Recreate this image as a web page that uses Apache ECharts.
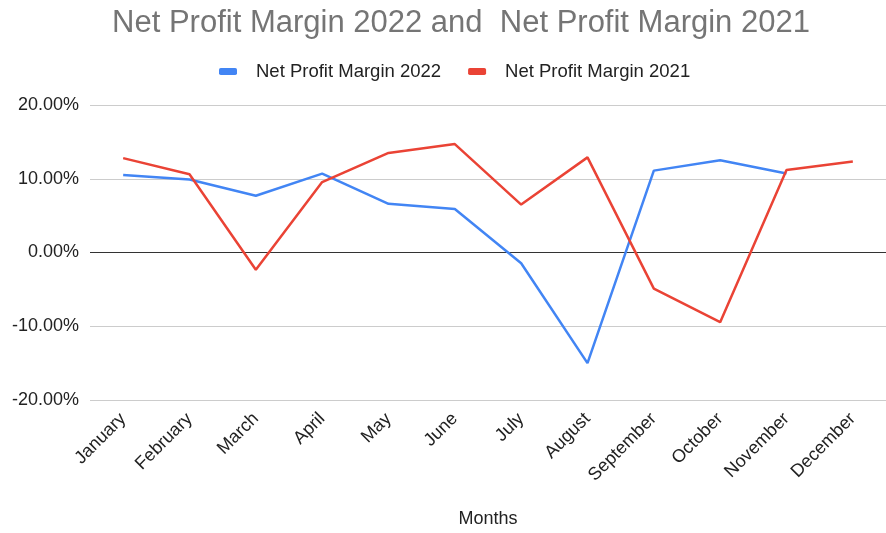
<!DOCTYPE html>
<html>
<head>
<meta charset="utf-8">
<script src="https://cdn.jsdelivr.net/npm/echarts@6/dist/echarts.min.js"></script>
<style>html,body{margin:0;padding:0;background:#fff}#c{width:886px;height:533px}</style>
</head>
<body>
<div id="c"></div>
<script>
var months = ["January","February","March","April","May","June","July","August","September","October","November","December"];
var margin2022 = [10.5, 9.9, 7.7, 10.7, 6.6, 5.9, -1.45, -15.0, 11.1, 12.5, 10.7, null];
var margin2021 = [12.8, 10.6, -2.35, 9.55, 13.5, 14.7, 6.5, 12.9, -4.9, -9.45, 11.2, 12.35];
var yTicks = [-20, -10, 0, 10, 20];

var font = "Liberation Sans, Arial, Helvetica, sans-serif";
var chart = echarts.init(document.getElementById('c'));
chart.setOption({
  animation: false,
  title: {
    text: "Net Profit Margin 2022 and  Net Profit Margin 2021",
    left: 456, top: 3, textAlign: 'center',
    textStyle: {fontFamily: font, fontSize: 31, fontWeight: 'normal', color: '#757575'}
  },
  legend: {
    top: 57, left: 214,
    itemWidth: 18, itemHeight: 7, itemGap: 27,
    icon: 'roundRect',
    textStyle: {fontFamily: font, fontSize: 18.5, color: '#222', padding: [0, 0, 0, 14]},
    data: ["Net Profit Margin 2022", "Net Profit Margin 2021"]
  },
  grid: {left: 90, top: 105, width: 806, height: 295.5, containLabel: false},
  xAxis: {
    type: 'category', data: months, boundaryGap: true,
    name: 'Months', nameLocation: 'middle', nameGap: 110,
    nameTextStyle: {fontFamily: font, fontSize: 18, color: '#222'},
    axisLine: {show: false}, axisTick: {show: false},
    axisLabel: {rotate: 45, interval: 0, margin: 16, fontFamily: font, fontSize: 18, color: '#222'}
  },
  yAxis: {
    type: 'value', min: yTicks[0], max: yTicks[yTicks.length - 1], interval: 10,
    axisLine: {show: false}, axisTick: {show: false},
    axisLabel: {margin: 11, fontFamily: font, fontSize: 18, color: '#222',
      formatter: function (v) { return v.toFixed(2) + '%'; }},
    splitLine: {lineStyle: {color: ['#cccccc', '#cccccc', '#333333', '#cccccc', '#cccccc'], width: 1}}
  },
  series: [
    {name: "Net Profit Margin 2022", type: 'line', data: margin2022, showSymbol: false, symbol: 'none',
     color: '#4285F4', lineStyle: {width: 2.5, color: '#4285F4'}},
    {name: "Net Profit Margin 2021", type: 'line', data: margin2021, showSymbol: false, symbol: 'none',
     color: '#EA4335', lineStyle: {width: 2.5, color: '#EA4335'}}
  ]
});
</script>
</body>
</html>
